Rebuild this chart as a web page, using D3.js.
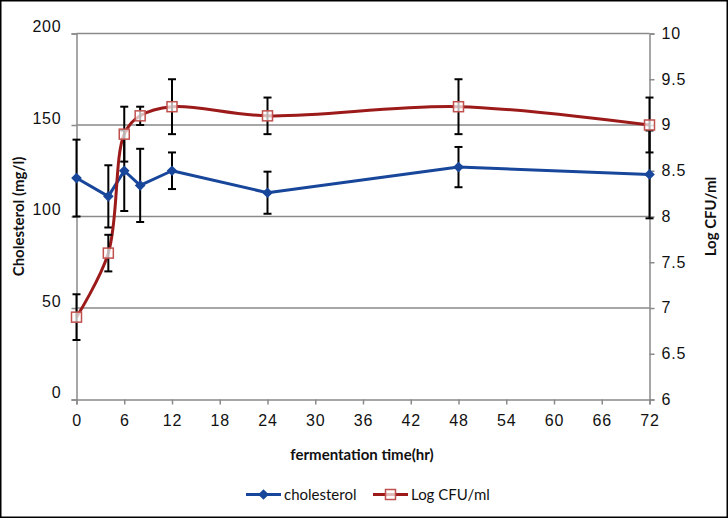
<!DOCTYPE html>
<html>
<head>
<meta charset="utf-8">
<script src="https://cdn.jsdelivr.net/npm/d3@7"></script>
<style>
  html, body { margin: 0; padding: 0; background: #fff; }
  svg { display: block; }
</style>
</head>
<body>
<svg id="chart" width="728" height="518"></svg>
<script>
// ---- data ----
const times = [0, 4, 6, 8, 12, 24, 48, 72];
const cholesterol = [121, 111, 125, 117, 125, 113, 127, 123];
const cholesterolErr = [21, 17, 22, 20, 10, 11.5, 11, 24];
const logCFU = [6.9, 7.6, 8.9, 9.1, 9.2, 9.1, 9.2, 9.0];
const logCFUErr = [0.25, 0.2, 0.3, 0.1, 0.3, 0.2, 0.3, 0.3];
const xTicks = [0, 6, 12, 18, 24, 30, 36, 42, 48, 54, 60, 66, 72];
const yLeftTicks = [0, 50, 100, 150, 200];
const yRightTicks = [6, 6.5, 7, 7.5, 8, 8.5, 9, 9.5, 10];
const seriesNames = ["cholesterol", "Log CFU/ml"];

// ---- layout ----
const svg = d3.select("#chart");
const W = 728, H = 518;
const pL = 76.5, pR = 649.5, pT = 33.5, pB = 399.5;
const blue = "#17469b", red = "#9c1a1a", markerRed = "#c0504d", grid = "#8a8a8a";
const tickFont = "'Liberation Sans', Arial, sans-serif";
const titleFont = "Lato, 'Open Sans', sans-serif";

const x = d3.scaleLinear().domain([0, 72]).range([pL, pR]);
const yL = d3.scaleLinear().domain([0, 200]).range([pB, pT]);
const yR = d3.scaleLinear().domain([6, 10]).range([pB, pT]);

// outer frame
svg.append("rect").attr("x", 0.75).attr("y", 0.75).attr("width", W - 1.5).attr("height", H - 1.5)
  .attr("fill", "#fff").attr("stroke", "#000").attr("stroke-width", 1.5);

// gridlines
svg.append("g").selectAll("line").data(yLeftTicks.filter(d => d > 0)).join("line")
  .attr("x1", pL).attr("x2", pR)
  .attr("y1", d => yL(d)).attr("y2", d => yL(d))
  .attr("stroke", grid).attr("stroke-width", 1.5);

// left axis
const gL = svg.append("g").attr("transform", `translate(${pL},0)`)
  .call(d3.axisLeft(yL).tickValues(yLeftTicks).tickSize(5).tickPadding(10).tickFormat(d3.format("d")));
gL.select(".domain").attr("stroke", grid).attr("stroke-width", 1.5);
gL.selectAll(".tick line").attr("stroke", grid).attr("stroke-width", 1.5);
gL.selectAll(".tick text").attr("font-family", tickFont).attr("font-size", 16)
  .attr("fill", "#111").attr("dy", "-0.1em").attr("letter-spacing", 0.8);

// right axis
const gR = svg.append("g").attr("transform", `translate(${pR},0)`)
  .call(d3.axisRight(yR).tickValues(yRightTicks).tickSize(5).tickPadding(7).tickFormat(d => String(d)));
gR.select(".domain").attr("stroke", grid).attr("stroke-width", 1.5);
gR.selectAll(".tick line").attr("stroke", grid).attr("stroke-width", 1.5);
gR.selectAll(".tick text").attr("font-family", tickFont).attr("font-size", 16)
  .attr("fill", "#111").attr("dy", "0.3em").attr("letter-spacing", 0.8);

// bottom axis
const gB = svg.append("g").attr("transform", `translate(0,${pB})`)
  .call(d3.axisBottom(x).tickValues(xTicks).tickSize(5).tickPadding(10));
gB.select(".domain").attr("stroke", grid).attr("stroke-width", 1.5);
gB.selectAll(".tick line").attr("stroke", grid).attr("stroke-width", 1.5);
gB.selectAll(".tick text").attr("font-family", tickFont).attr("font-size", 16)
  .attr("fill", "#111").attr("letter-spacing", 0.8);

// axis titles
svg.append("text").attr("transform", `translate(24,${(pT + pB) / 2}) rotate(-90)`)
  .attr("text-anchor", "middle").attr("font-family", titleFont).attr("font-weight", "bold")
  .attr("font-size", 15).attr("fill", "#111").text("Cholesterol (mg/l)");
svg.append("text").attr("transform", `translate(716,${(pT + pB) / 2}) rotate(-90)`)
  .attr("text-anchor", "middle").attr("font-family", titleFont).attr("font-weight", "bold")
  .attr("font-size", 15).attr("fill", "#111").text("Log CFU/ml");
svg.append("text").attr("x", 362).attr("y", 460)
  .attr("text-anchor", "middle").attr("font-family", titleFont).attr("font-weight", "bold")
  .attr("font-size", 15).attr("fill", "#111").text("fermentation time(hr)");

// series data
const cholData = times.map((t, i) => ({ t, v: cholesterol[i], e: cholesterolErr[i] }));
const cfuData = times.map((t, i) => ({ t, v: logCFU[i], e: logCFUErr[i] }));

function errorBars(data, y) {
  const g = svg.append("g").attr("stroke", "#000").attr("stroke-width", 2);
  g.selectAll("line.v").data(data).join("line").attr("class", "v")
    .attr("x1", d => x(d.t)).attr("x2", d => x(d.t))
    .attr("y1", d => y(d.v - d.e)).attr("y2", d => y(d.v + d.e));
  g.selectAll("line.top").data(data).join("line").attr("class", "top")
    .attr("x1", d => x(d.t) - 4).attr("x2", d => x(d.t) + 4)
    .attr("y1", d => y(d.v + d.e)).attr("y2", d => y(d.v + d.e));
  g.selectAll("line.bot").data(data).join("line").attr("class", "bot")
    .attr("x1", d => x(d.t) - 4).attr("x2", d => x(d.t) + 4)
    .attr("y1", d => y(d.v - d.e)).attr("y2", d => y(d.v - d.e));
}

// cholesterol series
svg.append("path").datum(cholData)
  .attr("d", d3.line().x(d => x(d.t)).y(d => yL(d.v)))
  .attr("fill", "none").attr("stroke", blue).attr("stroke-width", 3).attr("stroke-linejoin", "round");
errorBars(cholData, yL);
const diamond = d3.symbol().type(d3.symbolDiamond2).size(72);
svg.append("g").selectAll("path").data(cholData).join("path")
  .attr("transform", d => `translate(${x(d.t)},${yL(d.v)})`)
  .attr("d", diamond).attr("fill", blue);

// log CFU series
svg.append("path").datum(cfuData)
  .attr("d", d3.line().curve(d3.curveCatmullRom.alpha(0.5)).x(d => x(d.t)).y(d => yR(d.v)))
  .attr("fill", "none").attr("stroke", red).attr("stroke-width", 3).attr("stroke-linejoin", "round");
errorBars(cfuData, yR);
svg.append("g").selectAll("rect").data(cfuData).join("rect")
  .attr("x", d => x(d.t) - 5).attr("y", d => yR(d.v) - 5)
  .attr("width", 10).attr("height", 10)
  .attr("fill", "#fff").attr("fill-opacity", 0.7).attr("stroke", markerRed).attr("stroke-width", 1.5);

// legend
const leg = svg.append("g");
const legItems = [
  { name: seriesNames[0], x0: 246, color: blue, type: "diamond" },
  { name: seriesNames[1], x0: 373, color: red, type: "square" }
];
legItems.forEach(it => {
  const cy = 494.5;
  leg.append("line").attr("x1", it.x0).attr("x2", it.x0 + 35).attr("y1", cy).attr("y2", cy)
    .attr("stroke", it.color).attr("stroke-width", 3);
  if (it.type === "diamond") {
    leg.append("path").attr("transform", `translate(${it.x0 + 17.5},${cy})`).attr("d", diamond).attr("fill", it.color);
  } else {
    leg.append("rect").attr("x", it.x0 + 12.5).attr("y", cy - 5).attr("width", 10).attr("height", 10)
      .attr("fill", "#fff").attr("fill-opacity", 0.7).attr("stroke", markerRed).attr("stroke-width", 1.5);
  }
  leg.append("text").attr("x", it.x0 + 38).attr("y", cy).attr("dy", "0.35em")
    .attr("font-family", titleFont).attr("font-size", 15).attr("fill", "#111").text(it.name);
});
</script>
</body>
</html>
